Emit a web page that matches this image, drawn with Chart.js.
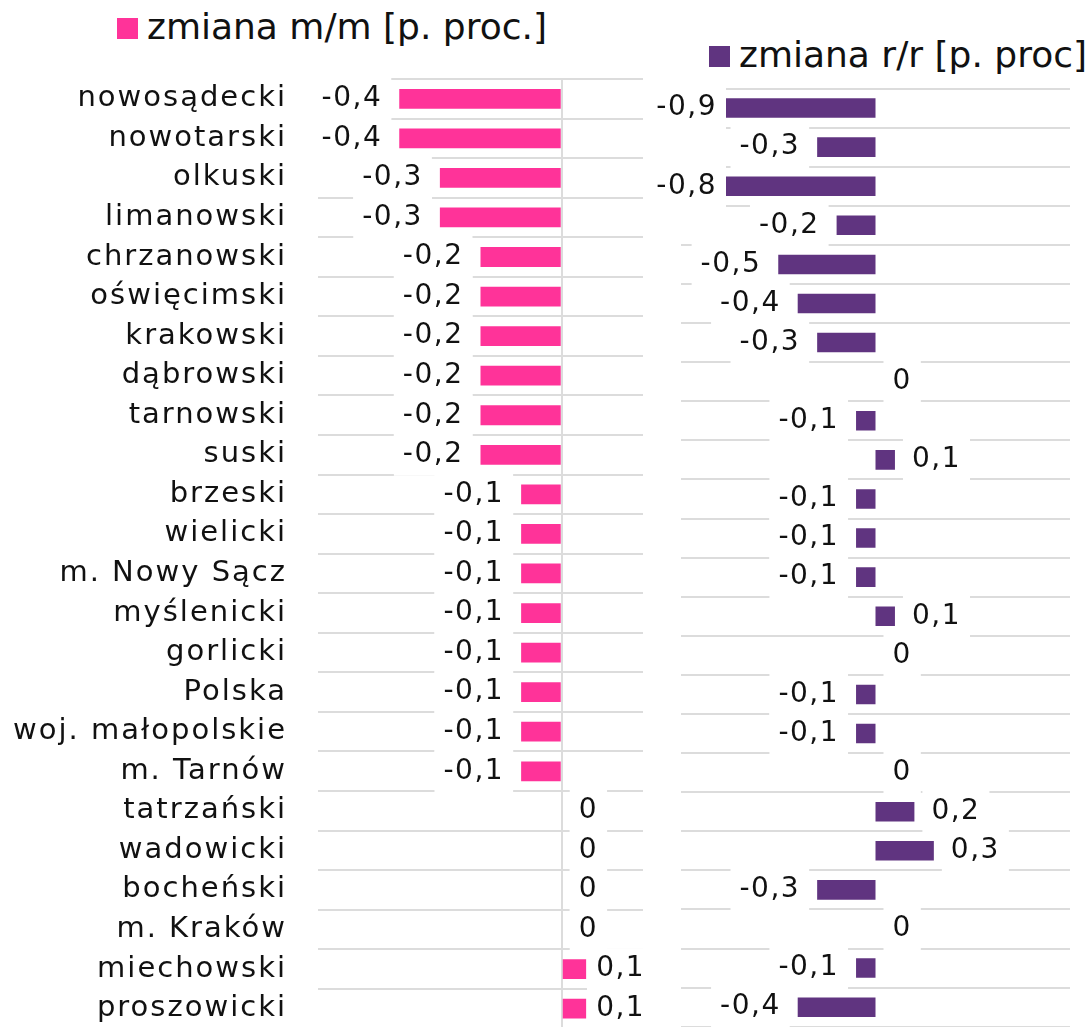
<!DOCTYPE html>
<html lang="pl">
<head>
<meta charset="utf-8">
<script src="https://cdn.jsdelivr.net/npm/chart.js@4.4.1/dist/chart.umd.min.js"></script>
<style>
  html, body { margin: 0; padding: 0; background: #fff; overflow: hidden; }
  body { position: relative; width: 1091px; height: 1027px; font-family: 'DejaVu Sans', sans-serif; color: #111; }
  canvas { position: absolute; top: 0; }
  #leftChart { left: 0; }
  #rightChart { left: 645px; }
  .key { position: absolute; width: 21px; height: 21px; }
  .legend { position: absolute; font-size: 36px; line-height: 36px; white-space: nowrap; }
</style>
</head>
<body>
<div class="key" style="left:117px;top:18px;background:#FF3399"></div>
<div class="legend" style="left:147px;top:9px">zmiana m/m [p. proc.]</div>
<div class="key" style="left:709px;top:46px;background:#603480"></div>
<div class="legend" style="left:739px;top:37px">zmiana r/r [p. proc]</div>

<canvas id="leftChart" width="660" height="1080"></canvas>
<canvas id="rightChart" width="446" height="1040"></canvas>

<script>
// ── data ──
const categories = ['nowosądecki', 'nowotarski', 'olkuski', 'limanowski', 'chrzanowski', 'oświęcimski',
  'krakowski', 'dąbrowski', 'tarnowski', 'suski', 'brzeski', 'wielicki', 'm. Nowy Sącz', 'myślenicki',
  'gorlicki', 'Polska', 'woj. małopolskie', 'm. Tarnów', 'tatrzański', 'wadowicki', 'bocheński',
  'm. Kraków', 'miechowski', 'proszowicki'];
const changeMonth = [-0.4, -0.4, -0.3, -0.3, -0.2, -0.2, -0.2, -0.2, -0.2, -0.2, -0.1, -0.1,
  -0.1, -0.1, -0.1, -0.1, -0.1, -0.1, 0, 0, 0, 0, 0.06, 0.06];
const changeYear = [-0.9, -0.3, -0.8, -0.2, -0.5, -0.4, -0.3, 0, -0.1, 0.1, -0.1, -0.1,
  -0.1, 0.1, 0, -0.1, -0.1, 0, 0.2, 0.3, -0.3, 0, -0.1, -0.4];
const monthRange = [-0.6, 0.2];
const yearRange = [-1, 1];

const PINK = '#FF3399';
const PURPLE = '#603480';
const GRID = '#dcdcdc';
const FONT = 'DejaVu Sans';

/* letter spacing for all canvas text (closer to the wide original face) */
const spacing = {
  id: 'spacing',
  beforeDraw(chart) { chart.ctx.letterSpacing = '2px'; }
};

/* value labels with white box, masking the row lines */
const valueLabels = {
  id: 'valueLabels',
  afterDatasetsDraw(chart, args, opts) {
    const ctx = chart.ctx;
    const meta = chart.getDatasetMeta(0);
    const data = chart.data.datasets[0].data;
    const clipLeft = chart.chartArea.left + (opts.inset || 0);
    ctx.save();
    ctx.font = '28px "' + FONT + '"';
    ctx.letterSpacing = '1.5px';
    ctx.textBaseline = 'middle';
    ctx.textAlign = 'left';
    const items = meta.data.map((bar, i) => {
      const v = data[i];
      const r = Math.round(v * 10) / 10;
      const txt = r === 0 ? '0' : r.toFixed(1).replace('.', ',');
      const w = ctx.measureText(txt).width;
      let x;
      if (v < 0) {
        const clipped = bar.x < clipLeft;
        x = Math.max(bar.x, clipLeft) - (clipped ? 9 : 17) - w;
      } else {
        x = bar.x + (v > 0 ? (opts.posGap || 17) : 17);
      }
      return { txt, x, y: bar.y, w };
    });
    ctx.fillStyle = '#fff';
    items.forEach(it => ctx.fillRect(it.x - 9, it.y - 21, it.w + 18, 42));
    ctx.fillStyle = '#111';
    items.forEach(it => ctx.fillText(it.txt, it.x, it.y));
    ctx.restore();
  }
};

// ── left chart: m/m ──
new Chart(document.getElementById('leftChart'), {
  type: 'bar',
  data: {
    labels: categories,
    datasets: [{
      data: changeMonth,
      backgroundColor: PINK,
      barPercentage: 0.5,
      categoryPercentage: 1
    }]
  },
  options: {
    indexAxis: 'y',
    responsive: false,
    animation: false,
    layout: { padding: { left: 0, top: 79, right: 17, bottom: 51.6 } },
    plugins: { legend: { display: false }, tooltip: { enabled: false }, valueLabels: { posGap: 10 } },
    scales: {
      x: {
        min: monthRange[0], max: monthRange[1],
        ticks: { display: false },
        border: { display: false },
        grid: {
          drawTicks: false, lineWidth: 2,
          color: c => (c.tick && c.tick.value === 0 ? GRID : 'rgba(0,0,0,0)')
        },
        afterFit: s => { s.height = 0; }
      },
      y: {
        border: { display: false },
        grid: { color: GRID, lineWidth: 2, drawTicks: false },
        ticks: { color: '#111', font: { family: FONT, size: 29 }, padding: 31, autoSkip: false },
        afterFit: s => { s.width = 318; }
      }
    }
  },
  plugins: [spacing, valueLabels]
});

// ── right chart: r/r ──
new Chart(document.getElementById('rightChart'), {
  type: 'bar',
  data: {
    labels: categories,
    datasets: [{
      data: changeYear,
      backgroundColor: PURPLE,
      barPercentage: 0.5,
      categoryPercentage: 1,
      clip: { left: -45, right: 0, top: 0, bottom: 0 }
    }]
  },
  options: {
    indexAxis: 'y',
    responsive: false,
    animation: false,
    layout: { padding: { left: 36, top: 88.5, right: 21, bottom: 13.3 } },
    plugins: { legend: { display: false }, tooltip: { enabled: false }, valueLabels: { inset: 45 } },
    scales: {
      x: {
        min: yearRange[0], max: yearRange[1],
        ticks: { display: false },
        border: { display: false },
        grid: { display: false },
        afterFit: s => { s.height = 0; }
      },
      y: {
        border: { display: false },
        grid: { color: GRID, lineWidth: 2, drawTicks: false },
        ticks: { display: false },
        afterFit: s => { s.width = 0; }
      }
    }
  },
  plugins: [spacing, valueLabels]
});
</script>
</body>
</html>
